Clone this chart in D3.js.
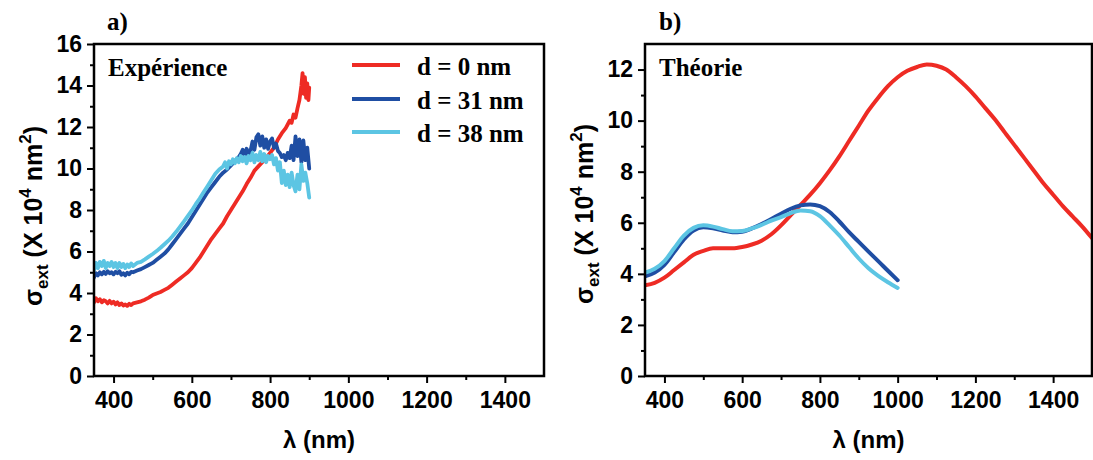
<!DOCTYPE html>
<html><head><meta charset="utf-8">
<script src="https://cdn.jsdelivr.net/npm/d3@7"></script>
<style>
html,body{margin:0;padding:0;background:#fff;}
svg{display:block;}
.tick text{font-family:"Liberation Sans",Arial,sans-serif;font-weight:bold;font-size:23px;fill:#000;}
.serif{font-family:"Liberation Serif","Times New Roman",serif;font-weight:bold;}
.sans{font-family:"Liberation Sans",Arial,sans-serif;font-weight:bold;}
</style>
</head><body>
<script>
// ---------- DATA ----------
const seriesNames = ["d = 0 nm", "d = 31 nm", "d = 38 nm"];
const xMajor = [400, 600, 800, 1000, 1200, 1400];
const xMinor = [500, 700, 900, 1100, 1300];
const yMajorA = [0, 2, 4, 6, 8, 10, 12, 14, 16];
const yMinorA = [1, 3, 5, 7, 9, 11, 13, 15];
const yMajorB = [0, 2, 4, 6, 8, 10, 12];
const yMinorB = [1, 3, 5, 7, 9, 11];

// Panel a) Expérience
const expRedL = [350,355,360,365,370,375,380,385,390,395,400,405,410,415,420,425,430,435,440,445,450,
  460,470,480,490,500,510,520,530,540,550,560,570,580,590,600,610,620,630,640,650,660,670,680,690,700,
  710,720,730,740,750,760,770,780,790,800,810,820,830,840,850,855,860,865,870,875,880,883,886,889,892,895,898,900];
const expRedV = [3.55,3.75,3.6,3.7,3.55,3.65,3.6,3.5,3.62,3.5,3.58,3.45,3.55,3.42,3.5,3.4,3.45,3.38,3.48,3.42,3.5,
  3.55,3.6,3.68,3.78,3.9,3.98,4.05,4.15,4.25,4.4,4.55,4.7,4.85,5.0,5.2,5.45,5.7,6.0,6.3,6.6,
  6.85,7.1,7.35,7.7,8.0,8.3,8.6,8.9,9.25,9.55,9.9,10.1,10.3,10.5,10.75,11.0,11.4,11.7,11.95,12.3,
  12.2,12.6,12.45,12.9,13.3,14.0,14.6,13.6,14.4,13.4,14.1,13.3,13.9];

const expBlueL = [350,355,360,365,370,375,380,385,390,395,400,405,410,415,420,425,430,435,440,445,450,
  460,470,480,490,500,510,520,530,540,550,560,570,580,590,600,610,620,630,640,650,660,670,680,690,700,710,720,
  725,730,735,740,745,750,755,760,765,770,775,780,785,790,795,800,805,810,815,820,825,830,835,840,845,850,
  855,860,865,870,875,880,885,890,895,900];
const expBlueV = [4.75,4.95,4.85,5.0,4.9,5.02,4.92,5.05,4.95,5.0,4.9,5.02,4.95,5.05,4.88,4.95,4.85,4.98,4.9,5.02,5.0,
  5.08,5.15,5.25,5.35,5.45,5.6,5.75,5.9,6.1,6.35,6.6,6.85,7.1,7.35,7.65,7.95,8.25,8.55,8.85,9.1,9.35,9.6,9.8,9.95,10.15,10.35,10.55,
  10.7,10.9,10.6,10.95,10.7,10.85,11.3,10.9,11.5,11.65,11.1,11.55,11.0,11.4,10.95,11.3,11.45,11.0,11.2,10.85,10.75,10.55,10.65,10.4,10.75,10.5,
  11.1,10.4,11.55,10.6,11.4,10.3,11.35,10.4,11.0,10.0];

const expCyanL = [350,355,360,365,370,375,380,385,390,395,400,405,410,415,420,425,430,435,440,445,450,
  460,470,480,490,500,510,520,530,540,550,560,570,580,590,600,610,620,630,640,650,660,670,680,
  685,690,695,700,705,710,715,720,725,730,735,740,745,750,755,760,765,770,775,780,785,790,795,800,
  805,810,815,820,825,830,835,840,845,850,855,860,865,870,875,880,885,890,895,900];
const expCyanV = [5.1,5.45,5.2,5.5,5.3,5.55,5.2,5.45,5.3,5.5,5.25,5.45,5.2,5.45,5.25,5.4,5.2,5.38,5.25,5.42,5.3,
  5.45,5.5,5.62,5.75,5.88,6.02,6.18,6.35,6.52,6.72,6.95,7.2,7.45,7.72,7.98,8.28,8.55,8.85,9.15,9.45,9.75,9.95,10.1,
  10.3,10.0,10.35,10.2,10.45,10.25,10.5,10.3,10.6,10.35,10.55,10.25,10.6,10.4,10.75,10.3,10.65,10.4,10.8,10.35,10.7,10.3,10.6,10.45,
  10.65,10.2,10.5,9.9,10.3,9.3,9.9,9.2,9.7,9.1,9.8,9.2,8.9,9.7,9.0,10.2,9.4,9.8,9.3,8.6];

// Panel b) Théorie
const thRedL = [350,375,400,425,450,475,500,525,550,575,600,625,650,675,700,725,750,775,800,825,850,875,900,925,950,975,
  1000,1025,1050,1075,1100,1125,1150,1175,1200,1225,1250,1275,1300,1325,1350,1375,1400,1425,1450,1475,1500];
const thRedV = [3.55,3.65,3.85,4.15,4.45,4.75,4.9,5.0,5.0,5.0,5.05,5.15,5.3,5.55,5.9,6.3,6.7,7.1,7.55,8.05,8.6,9.2,9.8,10.4,10.9,11.35,
  11.7,11.95,12.1,12.2,12.15,12.0,11.7,11.35,10.95,10.5,10.05,9.55,9.05,8.55,8.05,7.55,7.1,6.65,6.25,5.85,5.4];
const thL = [350,375,400,425,450,475,500,525,550,575,600,625,650,675,700,725,750,775,800,825,850,875,900,925,950,975,1000];
const thBlueV = [3.9,4.05,4.35,4.85,5.35,5.7,5.82,5.78,5.7,5.63,5.65,5.78,5.95,6.15,6.35,6.55,6.68,6.72,6.65,6.42,6.05,5.63,5.25,4.87,4.5,4.12,3.75];
const thCyanV = [4.05,4.2,4.5,5.0,5.5,5.8,5.9,5.85,5.75,5.67,5.68,5.78,5.92,6.08,6.22,6.38,6.48,6.45,6.26,5.9,5.5,5.05,4.6,4.22,3.92,3.67,3.45];

const colors = ["#ee2b24", "#1f4ea3", "#5cc5e3"];

// ---------- DRAW ----------
const W = 1093, H = 460;
const svg = d3.select("body").append("svg").attr("width", W).attr("height", H);

function zip(L, V) { return L.map((l, i) => [l, V[i]]); }

function panel(cfg) {
  const g = svg.append("g");
  const x = d3.scaleLinear().domain([350, 1500]).range([cfg.x0, cfg.x1]);
  const y = d3.scaleLinear().domain([0, cfg.ymax]).range([cfg.y1, cfg.y0]);

  // minor ticks
  g.append("g").attr("transform", `translate(0,${cfg.y1})`)
    .call(d3.axisBottom(x).tickValues(xMinor).tickSize(4).tickFormat(""));
  g.append("g").attr("transform", `translate(${cfg.x0},0)`)
    .call(d3.axisLeft(y).tickValues(cfg.yMinor).tickSize(4).tickFormat(""));
  // major ticks
  g.append("g").attr("transform", `translate(0,${cfg.y1})`)
    .call(d3.axisBottom(x).tickValues(xMajor).tickSize(7).tickPadding(9).tickFormat(d3.format("d")));
  g.append("g").attr("transform", `translate(${cfg.x0},0)`)
    .call(d3.axisLeft(y).tickValues(cfg.yMajor).tickSize(7).tickPadding(5).tickFormat(d3.format("d")));
  g.selectAll(".domain").remove();
  g.selectAll(".tick line").attr("stroke", "#000").attr("stroke-width", 2);

  // data lines
  const clipId = "clip" + cfg.id;
  svg.append("clipPath").attr("id", clipId).append("rect")
    .attr("x", cfg.x0).attr("y", cfg.y0).attr("width", cfg.x1 - cfg.x0).attr("height", cfg.y1 - cfg.y0);
  const line = d3.line().x(d => x(d[0])).y(d => y(d[1])).curve(cfg.curve);
  cfg.series.forEach((s, i) => {
    g.append("path").datum(s).attr("clip-path", `url(#${clipId})`)
      .attr("fill", "none").attr("stroke", colors[i]).attr("stroke-width", cfg.lw)
      .attr("stroke-linejoin", "round").attr("stroke-linecap", "round").attr("d", line);
  });

  // frame
  g.append("rect").attr("x", cfg.x0).attr("y", cfg.y0)
    .attr("width", cfg.x1 - cfg.x0).attr("height", cfg.y1 - cfg.y0)
    .attr("fill", "none").attr("stroke", "#000").attr("stroke-width", 2.5);

  // x title
  g.append("text").attr("class", "sans").attr("font-size", 24)
    .attr("x", (cfg.x0 + cfg.x1) / 2).attr("y", 448).attr("text-anchor", "middle").text("λ (nm)");

  // y title
  const yt = g.append("text").attr("class", "sans").attr("font-size", 25)
    .attr("transform", `translate(${cfg.x0 - 52},${cfg.ytc}) rotate(-90)`).attr("text-anchor", "middle");
  yt.append("tspan").text("σ");
  yt.append("tspan").attr("font-size", 17).attr("dy", 6).text("ext");
  yt.append("tspan").attr("dy", -6).text(" (X 10");
  yt.append("tspan").attr("font-size", 17).attr("dy", -11).text("4");
  yt.append("tspan").attr("dy", 11).text(" nm");
  yt.append("tspan").attr("font-size", 17).attr("dy", -11).text("2");
  yt.append("tspan").attr("dy", 11).text(")");

  // panel letter and inner label
  g.append("text").attr("class", "serif").attr("font-size", 25)
    .attr("x", cfg.letterX).attr("y", 30).text(cfg.letter);
  g.append("text").attr("class", "serif").attr("font-size", 25)
    .attr("x", cfg.x0 + 14).attr("y", 76).text(cfg.label);
  return { x, y, g };
}

const pa = panel({
  id: "a", x0: 94, x1: 544, y0: 44, y1: 376, ymax: 16, yMajor: yMajorA, yMinor: yMinorA,
  series: [zip(expRedL, expRedV), zip(expBlueL, expBlueV), zip(expCyanL, expCyanV)],
  curve: d3.curveLinear, lw: 3.8, letter: "a)", letterX: 107, label: "Expérience", ytc: 216
});
const pb = panel({
  id: "b", x0: 645, x1: 1092, y0: 44, y1: 376, ymax: 13, yMajor: yMajorB, yMinor: yMinorB,
  series: [zip(thRedL, thRedV), zip(thL, thBlueV), zip(thL, thCyanV)],
  curve: d3.curveMonotoneX, lw: 4, letter: "b)", letterX: 659, label: "Théorie", ytc: 214
});

// legend (panel a)
const legY = [65, 99, 132];
const leg = svg.append("g");
seriesNames.forEach((name, i) => {
  leg.append("line").attr("x1", 352).attr("x2", 400).attr("y1", legY[i]).attr("y2", legY[i])
    .attr("stroke", colors[i]).attr("stroke-width", 4);
  leg.append("text").attr("class", "serif").attr("font-size", 25)
    .attr("x", 417).attr("y", legY[i] + 10).text(name);
});
</script>
</body></html>
